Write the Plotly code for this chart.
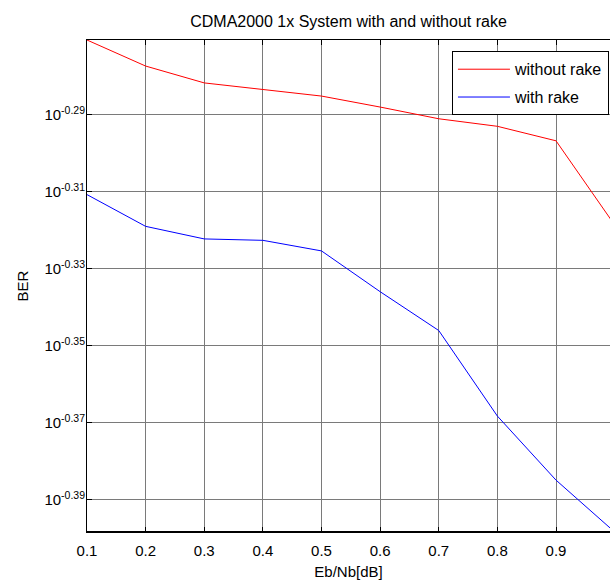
import math
import plotly.graph_objects as go

# Data
eb_nb_db = [0.1, 0.2, 0.3, 0.4, 0.5, 0.6, 0.7, 0.8, 0.9, 1.0]
ber_without_rake = [0.5364, 0.5281, 0.5228, 0.5208, 0.5187, 0.5153, 0.5117, 0.5094, 0.5050, 0.4802]
ber_with_rake = [0.4890, 0.4798, 0.4762, 0.4758, 0.4728, 0.4614, 0.4508, 0.4283, 0.4122, 0.3996]

x_tick_vals = [0.1, 0.2, 0.3, 0.4, 0.5, 0.6, 0.7, 0.8, 0.9]
x_tick_text = ["0.1", "0.2", "0.3", "0.4", "0.5", "0.6", "0.7", "0.8", "0.9"]
y_tick_exponents = [-0.29, -0.31, -0.33, -0.35, -0.37, -0.39]
y_tick_text = ["10<sup>-0.29</sup>", "10<sup>-0.31</sup>", "10<sup>-0.33</sup>",
               "10<sup>-0.35</sup>", "10<sup>-0.37</sup>", "10<sup>-0.39</sup>"]

FONT = "Liberation Sans, Arial, sans-serif"

W, H = 610, 581

fig = go.Figure()
fig.add_trace(go.Scatter(x=eb_nb_db, y=ber_without_rake, mode="lines",
                         name="without rake", legendgroup="a",
                         line=dict(color="#ff0000", width=1)))
fig.add_trace(go.Scatter(x=eb_nb_db, y=ber_with_rake, mode="lines",
                         name="with rake", legendgroup="b",
                         line=dict(color="#0000ff", width=1)))

all_vals = ber_without_rake + ber_with_rake
y_range = [math.log10(min(all_vals)), math.log10(max(all_vals))]

fig.update_layout(
    width=W, height=H,
    margin=dict(l=87, r=0, t=40, b=49, autoexpand=False),
    paper_bgcolor="white", plot_bgcolor="white",
    font=dict(family=FONT, size=15, color="black"),
    title=dict(text="CDMA2000 1x System with and without rake",
               font=dict(family=FONT, size=16, color="black"),
               x=348.5 / W, xref="container", xanchor="center",
               y=1 - 21 / H, yref="container", yanchor="middle"),
    showlegend=True,
    legend=dict(x=0.998, xanchor="right", y=0.977, yanchor="top",
                bgcolor="white", bordercolor="black", borderwidth=1,
                font=dict(family=FONT, size=16, color="black"),
                itemwidth=52, tracegroupgap=4),
    xaxis=dict(range=[0.1, 0.9921], tickvals=x_tick_vals, ticktext=x_tick_text,
               showgrid=True, gridcolor="#7a7a7a", gridwidth=1,
               showline=True, linecolor="black", linewidth=1, mirror="ticks",
               ticks="inside", ticklen=5, tickcolor="black",
               ticklabelstandoff=5,
               zeroline=False,
               title=dict(text="Eb/Nb[dB]", font=dict(family=FONT, size=15), standoff=8)),
    yaxis=dict(type="log", range=y_range,
               tickvals=[10 ** e for e in y_tick_exponents], ticktext=y_tick_text,
               showgrid=True, gridcolor="#7a7a7a", gridwidth=1,
               showline=True, linecolor="black", linewidth=1, mirror=False,
               ticks="inside", ticklen=5, tickcolor="black",
               ticklabelstandoff=-2,
               zeroline=False,
               title=dict(text="BER", font=dict(family=FONT, size=15), standoff=12)),
)

fig.add_shape(type="line", xref="paper", yref="paper", x0=0, x1=1, y0=0, y1=0,
              line=dict(color="black", width=2))

fig.write_html("out.html",
               config={"displayModeBar": False},
               post_script="document.body.style.margin='0';"
                           "document.body.style.overflow='hidden';")
